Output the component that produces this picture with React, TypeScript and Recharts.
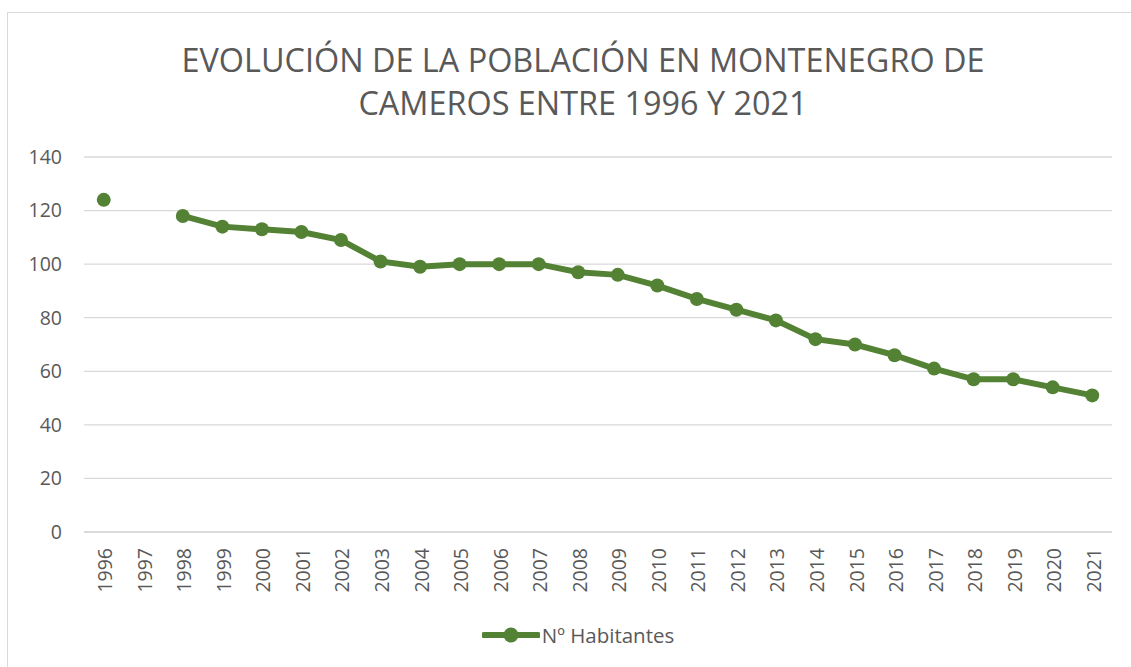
import React from 'react';
import { LineChart, Line, XAxis, YAxis, CartesianGrid } from 'recharts';

const years = [
  '1996', '1997', '1998', '1999', '2000', '2001', '2002', '2003', '2004', '2005', '2006', '2007', '2008',
  '2009', '2010', '2011', '2012', '2013', '2014', '2015', '2016', '2017', '2018', '2019', '2020', '2021',
];
const habitantes: (number | null)[] = [
  124, null, 118, 114, 113, 112, 109, 101, 99, 100, 100, 100, 97,
  96, 92, 87, 83, 79, 72, 70, 66, 61, 57, 57, 54, 51,
];
const yTicks = [0, 20, 40, 60, 80, 100, 120, 140];
const titleLines = ['EVOLUCIÓN DE LA POBLACIÓN EN MONTENEGRO DE', 'CAMEROS ENTRE 1996 Y 2021'];
const seriesName = 'Nº Habitantes';

const data = years.map((y, i) => ({ year: y, value: habitantes[i] }));

const GREEN = '#548235';
const TEXT = '#595959';
const FONT = '"Open Sans", "Liberation Sans", sans-serif';

const YearTick = (props: any) => {
  const { x, y, payload } = props;
  return (
    <text
      x={0}
      y={0}
      transform={`translate(${x + 1}, ${y + 8}) rotate(-90)`}
      textAnchor="end"
      dominantBaseline="central"
      fill={TEXT}
      fontSize={19.5}
      fontFamily={FONT}
    >
      {payload.value}
    </text>
  );
};

export default function App() {
  return (
    <div style={{ position: 'fixed', left: 0, top: 0, width: 1131, height: 667, overflow: 'hidden', background: '#fff' }}>
      <div
        style={{
          position: 'absolute',
          left: 7,
          top: 12,
          width: 1140,
          height: 680,
          border: '1.5px solid #d9d9d9',
        }}
      />
      <div
        style={{
          position: 'absolute',
          left: 0,
          top: 38,
          width: 1166,
          textAlign: 'center',
          fontFamily: FONT,
          fontWeight: 400,
          fontSize: 32.4,
          lineHeight: '43px',
          color: TEXT,
        }}
      >
        {titleLines.map((t) => (
          <div key={t}>{t}</div>
        ))}
      </div>
      <div style={{ position: 'absolute', left: 0, top: 0 }}>
        <LineChart width={1131} height={667} data={data} margin={{ top: 157, right: 19, left: 24, bottom: 0 }}>
          <CartesianGrid vertical={false} stroke="#d9d9d9" strokeWidth={1.3} />
          <XAxis
            dataKey="year"
            interval={0}
            height={135}
            padding={{ left: 19.75, right: 19.75 }}
            tickLine={false}
            axisLine={{ stroke: '#d9d9d9', strokeWidth: 1.3 }}
            tick={<YearTick />}
          />
          <YAxis
            domain={[0, 140]}
            ticks={yTicks}
            width={60}
            axisLine={false}
            tickLine={false}
            tick={{ fill: TEXT, fontSize: 19.5, fontFamily: FONT }}
            tickMargin={16}
          />
          <Line
            dataKey="value"
            name={seriesName}
            stroke={GREEN}
            strokeWidth={6}
            dot={{ r: 7, fill: GREEN, stroke: GREEN, strokeWidth: 0 }}
            activeDot={false}
            isAnimationActive={false}
          />
        </LineChart>
      </div>
      <div
        style={{
          position: 'absolute',
          left: 0,
          top: 621,
          width: 1156,
          display: 'flex',
          alignItems: 'center',
          justifyContent: 'center',
          fontFamily: FONT,
        }}
      >
        <svg width={58} height={28}>
          <line x1={2} y1={14} x2={56} y2={14} stroke={GREEN} strokeWidth={6} strokeLinecap="round" />
          <circle cx={29} cy={14} r={7.5} fill={GREEN} />
        </svg>
        <span style={{ color: TEXT, fontSize: 20.5, marginLeft: 2 }}>{seriesName}</span>
      </div>
    </div>
  );
}
